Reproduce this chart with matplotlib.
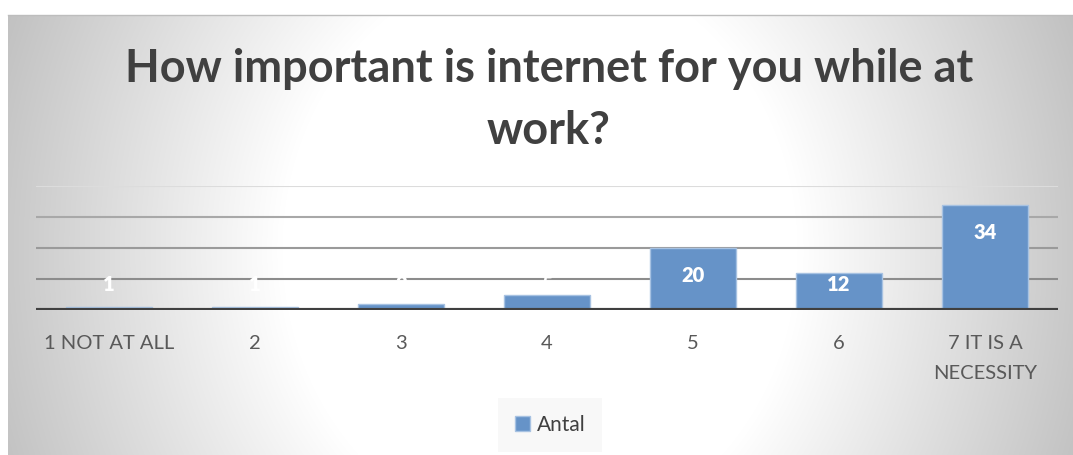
import numpy as np
import matplotlib
matplotlib.use("Agg")
import matplotlib.pyplot as plt
from matplotlib.patches import Patch

categories = ["1 NOT AT ALL", "2", "3", "4", "5", "6", "7 IT IS A\nNECESSITY"]
antal = [1, 1, 2, 5, 20, 12, 34]
title = "How important is internet for you while at\nwork?"

W, H = 1073, 455
plt.rcParams['font.family'] = ['Lato', 'DejaVu Sans']

fig = plt.figure(figsize=(W / 100, H / 100), dpi=100)
fig.patch.set_facecolor('white')

# radial gradient background of the chart area
bg = fig.add_axes([8 / W, 0, 1 - 8 / W, 1 - 15 / H])
yy, xx = np.mgrid[15:455, 8:1073]
t = np.sqrt(((xx - 540) / 258.0) ** 2 + ((yy - 250) / 289.0) ** 2)
shade = 255 - np.clip((t - 1) / 1.2, 0, 1) * 61
img = np.dstack([shade, shade, shade]) / 255.0
bg.imshow(img, aspect='auto', interpolation='bilinear')
bg.set_axis_off()
fig.add_artist(plt.Line2D([8 / W, 1], [1 - 15 / H, 1 - 15 / H], color='#bdbdbd', lw=1))

ax = fig.add_axes([36 / W, 145 / H, 1022 / W, 124 / H])
ax.set_facecolor('none')
x = np.arange(len(categories))

for yv, c in zip([10, 20, 30, 40], ['#8c8c8c', '#9a9a9a', '#a8a8a8', '#dcdcdc']):
    ax.axhline(yv, color=c, lw=1.5, zorder=1)

bars = ax.bar(x, antal, width=0.59, color='#6693c8', edgecolor='#a7c2e2', lw=1,
              zorder=2, label='Antal')
ax.axhline(0, color='#404040', lw=3, zorder=3)

for xi, v in zip(x, antal):
    ax.text(xi, max(v - 9.0, 8.1), str(v), ha='center', va='center',
            color='white', fontsize=14.5, fontweight='heavy', zorder=4)

ax.set_xlim(-0.5, len(categories) - 0.5)
ax.set_ylim(0, 40)
ax.set_xticks(x)
ax.set_xticklabels(categories, fontsize=14.5, color='#595959', linespacing=1.95, va='top')
ax.tick_params(axis='x', length=0, pad=18)
ax.set_yticks([])
for s in ax.spines.values():
    s.set_visible(False)

fig.text(549 / W, 1 - 100 / H, title, ha='center', va='center', fontsize=32.5,
         fontweight='bold', color='#404040', linespacing=1.6)

leg = fig.legend(handles=[Patch(facecolor='#6693c8', edgecolor='#a7c2e2', label='Antal')],
                 loc='center', bbox_to_anchor=(550 / W, 1 - 425 / H), frameon=True,
                 fontsize=15, handlelength=0.75, handleheight=0.75, handletextpad=0.3,
                 borderpad=0.8, fancybox=False)
leg.get_frame().set_facecolor('#f7f7f7')
leg.get_frame().set_edgecolor('none')
for txt in leg.get_texts():
    txt.set_color('#404040')

fig.savefig('out.png', dpi=100)
